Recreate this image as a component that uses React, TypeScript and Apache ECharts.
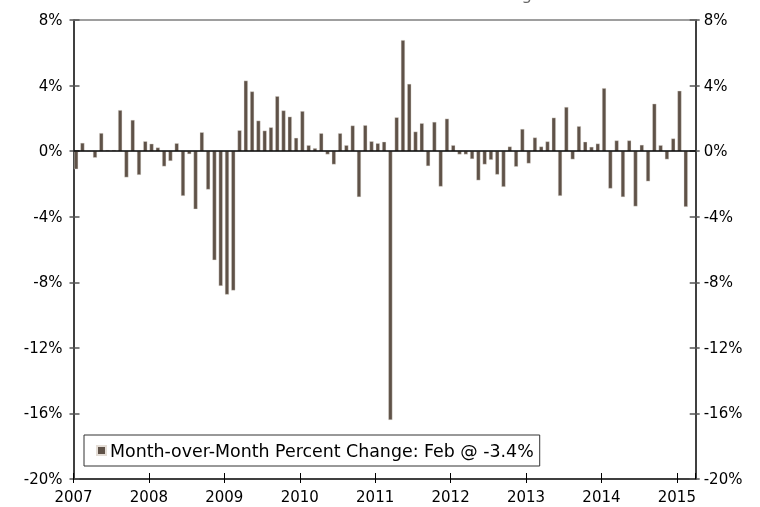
import React, { useEffect, useRef } from "react";
import * as echarts from "echarts";

const startYear = 2007;
const yearLabels = ["2007", "2008", "2009", "2010", "2011", "2012", "2013", "2014", "2015"];
const yTicks = [-20, -16, -12, -8, -4, 0, 4, 8];

const v2007 = [-1.1, 0.5, 0.0, -0.4, 1.1, 0.06, 0.06, 2.5, -1.6, 1.9, -1.45, 0.6];
const v2008 = [0.45, 0.22, -0.93, -0.6, 0.48, -2.73, -0.18, -3.54, 1.15, -2.34, -6.65, -8.22];
const v2009 = [-8.75, -8.5, 1.27, 4.3, 3.64, 1.86, 1.25, 1.45, 3.35, 2.48, 2.1, 0.81];
const v2010 = [2.44, 0.36, 0.18, 1.09, -0.2, -0.81, 1.09, 0.36, 1.56, -2.8, 1.58, 0.6];
const v2011 = [0.48, 0.57, -16.4, 2.06, 6.77, 4.1, 1.19, 1.7, -0.91, 1.78, -2.16, 1.98];
const v2012 = [0.36, -0.2, -0.2, -0.48, -1.78, -0.81, -0.53, -1.43, -2.18, 0.28, -0.95, 1.35];
const v2013 = [-0.75, 0.83, 0.28, 0.59, 2.04, -2.73, 2.69, -0.5, 1.52, 0.57, 0.26, 0.46];
const v2014 = [3.84, -2.28, 0.65, -2.8, 0.65, -3.37, 0.38, -1.84, 2.89, 0.36, -0.5, 0.77];
const v2015 = [3.68, -3.4];

const monthly = [...v2007, ...v2008, ...v2009, ...v2010, ...v2011, ...v2012, ...v2013, ...v2014, ...v2015];

const seriesName = "Month-over-Month Percent Change: Feb @ -3.4%";
const titleText = "Month-over-Month Percent Change";

const BAR = "#5f5248";
const FONT = "DejaVu Sans";

export default function App() {
  const ref = useRef<HTMLDivElement>(null);
  useEffect(() => {
    if (!ref.current) return;
    const chart = echarts.init(ref.current, null, { renderer: "svg" });
    const xMax = 99;
    const baseX = {
      type: "value" as const,
      min: 0,
      max: xMax,
      interval: 12,
      splitLine: { show: false },
    };
    const baseY = {
      type: "value" as const,
      min: yTicks[0],
      max: yTicks[yTicks.length - 1],
      interval: 4,
      splitLine: { show: false },
    };
    chart.setOption({
      animation: false,
      textStyle: { fontFamily: FONT },
      title: {
        text: titleText,
        left: 250,
        top: -19,
        textStyle: { fontFamily: FONT, fontSize: 16.5, fontWeight: "normal", color: "#666" },
      },
      grid: { left: 73.5, right: 64.3, top: 20, bottom: 28, containLabel: false },
      legend: {
        show: true,
        data: [seriesName],
        left: 84,
        top: 435,
        orient: "horizontal",
        icon: "rect",
        itemWidth: 9,
        itemHeight: 9,
        itemGap: 5,
        padding: [7, 6, 7, 12],
        borderColor: "#333",
        borderWidth: 1,
        borderRadius: 0,
        backgroundColor: "#fff",
        textStyle: { fontFamily: FONT, fontSize: 17.4, color: "#000", padding: [0, 0, 0, -1] },
      },
      xAxis: [
        {
          ...baseX,
          position: "bottom",
          axisLine: { show: true, onZero: false, lineStyle: { color: "#000", width: 1.5 } },
          axisTick: { show: true, inside: false, length: 4, lineStyle: { color: "#000", width: 1 } },
          axisLabel: {
            show: true,
            margin: 10,
            fontFamily: FONT,
            fontSize: 15,
            color: "#000",
            showMaxLabel: false,
            formatter: (v: number) => {
              const k = Math.round(v / 12);
              if (Math.abs(v - k * 12) > 1e-6) return "";
              return yearLabels[k] ?? String(startYear + k);
            },
          },
        },
        {
          ...baseX,
          position: "bottom",
          axisLine: { show: false, onZero: false },
          axisTick: { show: true, inside: true, length: 6, lineStyle: { color: "#000", width: 1 } },
          axisLabel: { show: false },
        },
        {
          ...baseX,
          position: "top",
          axisLine: { show: true, onZero: false, lineStyle: { color: "#7f7f7f", width: 1.5 } },
          axisTick: { show: false },
          axisLabel: { show: false },
        },
      ],
      yAxis: [
        {
          ...baseY,
          position: "left",
          axisLine: { show: true, onZero: false, lineStyle: { color: "#000", width: 1.5 } },
          axisTick: { show: true, inside: false, length: 4, lineStyle: { color: "#555", width: 1.5 } },
          axisLabel: { show: true, margin: 11, fontFamily: FONT, fontSize: 15, color: "#000", formatter: (v: number) => `${v}%` },
        },
        {
          ...baseY,
          position: "left",
          axisLine: { show: false, onZero: false },
          axisTick: { show: true, inside: true, length: 6, lineStyle: { color: "#555", width: 1.5 } },
          axisLabel: { show: false },
        },
        {
          ...baseY,
          position: "right",
          axisLine: { show: true, onZero: false, lineStyle: { color: "#000", width: 1.5 } },
          axisTick: { show: true, inside: false, length: 4, lineStyle: { color: "#555", width: 1.5 } },
          axisLabel: { show: true, margin: 8, fontFamily: FONT, fontSize: 15, color: "#000", formatter: (v: number) => `${v}%` },
        },
        {
          ...baseY,
          position: "right",
          axisLine: { show: false, onZero: false },
          axisTick: { show: true, inside: true, length: 6, lineStyle: { color: "#555", width: 1.5 } },
          axisLabel: { show: false },
        },
      ],
      series: [
        {
          name: seriesName,
          type: "bar",
          xAxisIndex: 0,
          yAxisIndex: 0,
          barWidth: 4,
          itemStyle: { color: BAR, borderColor: "#e4ddd6", borderWidth: 0.4 },
          data: monthly.map((v, i) => [i + 0.42, v]),
          markLine: {
            silent: true,
            symbol: ["none", "none"],
            label: { show: false },
            lineStyle: { color: "#000", width: 1.5, type: "solid" },
            data: [{ yAxis: 0 }],
          },
        },
      ],
    });
    return () => chart.dispose();
  }, []);
  return <div ref={ref} style={{ position: "fixed", left: 0, top: 0, width: 760, height: 507 }} />;
}
